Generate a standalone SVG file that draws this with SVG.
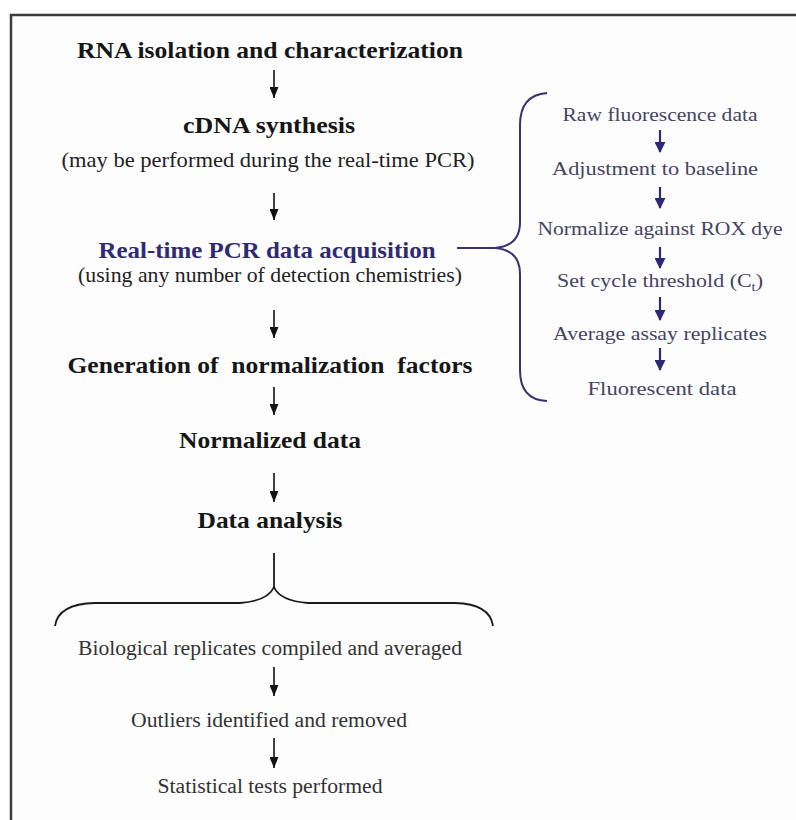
<svg xmlns="http://www.w3.org/2000/svg" width="796" height="820" viewBox="0 0 796 820">
<defs>
<style>
.h{font-family:"Liberation Serif","Times New Roman",serif;font-weight:bold;font-size:24px;fill:#161616;text-anchor:middle}
.hb{fill:#2f2a76}
.s{font-family:"Liberation Serif","Times New Roman",serif;font-size:21px;fill:#222;text-anchor:middle}
.b{font-family:"Liberation Serif","Times New Roman",serif;font-size:20.5px;fill:#333;text-anchor:middle}
.r{font-family:"Liberation Serif","Times New Roman",serif;font-size:19.5px;fill:#454463;text-anchor:middle}
.ln{stroke:#111;stroke-width:1.6;fill:none}
.rl{stroke:#2b2874;stroke-width:2.2;fill:none}
.br{stroke:#363273;stroke-width:2;fill:none}
.bk{stroke:#1a1a1a;stroke-width:1.8;fill:none}
</style>
<marker id="ah2" markerUnits="userSpaceOnUse" markerWidth="12" markerHeight="11" refX="11" refY="6" viewBox="0 0 12 12" orient="auto">
<path d="M0,0 L12,6 L0,12 Z" fill="#2b2874"/>
</marker>
<marker id="ah1" markerUnits="userSpaceOnUse" markerWidth="11" markerHeight="9" refX="11" refY="4.5" viewBox="0 0 11 9" orient="auto">
<path d="M0,0 L11,4.5 L0,9 Z" fill="#111"/>
</marker>
</defs>
<rect width="796" height="820" fill="#ffffff"/>
<rect x="11" y="15" width="785" height="805" fill="#fdfdfd"/>
<g id="frame">
<line x1="10" y1="15" x2="796" y2="15" stroke="#3c3c3c" stroke-width="2.5"/>
<line x1="11" y1="14" x2="11" y2="820" stroke="#3c3c3c" stroke-width="2.5"/>
</g>

<g id="connectors">
<line class="ln" x1="274" y1="70" x2="274" y2="98" marker-end="url(#ah1)"/>
<line class="ln" x1="274" y1="193" x2="274" y2="220" marker-end="url(#ah1)"/>
<line class="ln" x1="274" y1="310" x2="274" y2="338" marker-end="url(#ah1)"/>
<line class="ln" x1="274" y1="387" x2="274" y2="415" marker-end="url(#ah1)"/>
<line class="ln" x1="274" y1="473" x2="274" y2="502" marker-end="url(#ah1)"/>
<line class="ln" x1="274" y1="667" x2="274" y2="696" marker-end="url(#ah1)"/>
<line class="ln" x1="274" y1="738" x2="274" y2="768" marker-end="url(#ah1)"/>
<line class="rl" x1="660" y1="130" x2="660" y2="152" marker-end="url(#ah2)"/>
<line class="rl" x1="660" y1="187" x2="660" y2="208" marker-end="url(#ah2)"/>
<line class="rl" x1="660" y1="247" x2="660" y2="268" marker-end="url(#ah2)"/>
<line class="rl" x1="660" y1="297" x2="660" y2="320" marker-end="url(#ah2)"/>
<line class="rl" x1="660" y1="348" x2="660" y2="370" marker-end="url(#ah2)"/>
<line class="br" x1="457" y1="248" x2="495" y2="248"/>
<path class="br" d="M547,93 Q520,95 520,125 L520,222 Q520,246 495,248 Q520,250 520,274 L520,370 Q520,400 547,401"/>
<line class="bk" x1="274" y1="553" x2="274" y2="588"/>
<path class="bk" d="M55,626 Q58,604 95,603 L240,603 Q268,601 274,587 Q280,601 308,603 L455,603 Q490,604 493,626"/>
</g>

<g id="n-rna"><text class="h" x="270" y="58" textLength="386" lengthAdjust="spacingAndGlyphs">RNA isolation and characterization</text></g>
<g id="n-cdna">
<text class="h" x="269" y="133" textLength="172" lengthAdjust="spacingAndGlyphs">cDNA synthesis</text>
<text class="s" x="268" y="167" textLength="413" lengthAdjust="spacingAndGlyphs">(may be performed during the real-time PCR)</text>
</g>
<g id="n-pcr">
<text class="h hb" x="267" y="258" textLength="337" lengthAdjust="spacingAndGlyphs">Real-time PCR data acquisition</text>
<text class="s" x="270" y="282" textLength="384" lengthAdjust="spacingAndGlyphs">(using any number of detection chemistries)</text>
</g>
<g id="n-gen"><text class="h" x="270" y="373" textLength="405" lengthAdjust="spacingAndGlyphs" xml:space="preserve">Generation of  normalization  factors</text></g>
<g id="n-norm"><text class="h" x="270" y="448" textLength="182" lengthAdjust="spacingAndGlyphs">Normalized data</text></g>
<g id="n-analysis"><text class="h" x="270" y="528" textLength="145" lengthAdjust="spacingAndGlyphs">Data analysis</text></g>

<g id="n-raw"><text class="r" x="660" y="121" textLength="195" lengthAdjust="spacingAndGlyphs">Raw fluorescence data</text></g>
<g id="n-adj"><text class="r" x="655" y="175" textLength="206" lengthAdjust="spacingAndGlyphs">Adjustment to baseline</text></g>
<g id="n-rox"><text class="r" x="660" y="235" textLength="245" lengthAdjust="spacingAndGlyphs">Normalize against ROX dye</text></g>
<g id="n-ct"><text class="r" x="660" y="287" textLength="206" lengthAdjust="spacingAndGlyphs">Set cycle threshold (C<tspan font-size="13" dy="4">t</tspan><tspan dy="-4">)</tspan></text></g>
<g id="n-avg"><text class="r" x="660" y="340" textLength="214" lengthAdjust="spacingAndGlyphs">Average assay replicates</text></g>
<g id="n-fluor"><text class="r" x="662" y="395" textLength="149" lengthAdjust="spacingAndGlyphs">Fluorescent data</text></g>

<g id="n-bio"><text class="b" x="270" y="655" textLength="384" lengthAdjust="spacingAndGlyphs">Biological replicates compiled and averaged</text></g>
<g id="n-out"><text class="b" x="269" y="727" textLength="276" lengthAdjust="spacingAndGlyphs">Outliers identified and removed</text></g>
<g id="n-stat"><text class="b" x="270" y="793" textLength="225" lengthAdjust="spacingAndGlyphs">Statistical tests performed</text></g>
</svg>
